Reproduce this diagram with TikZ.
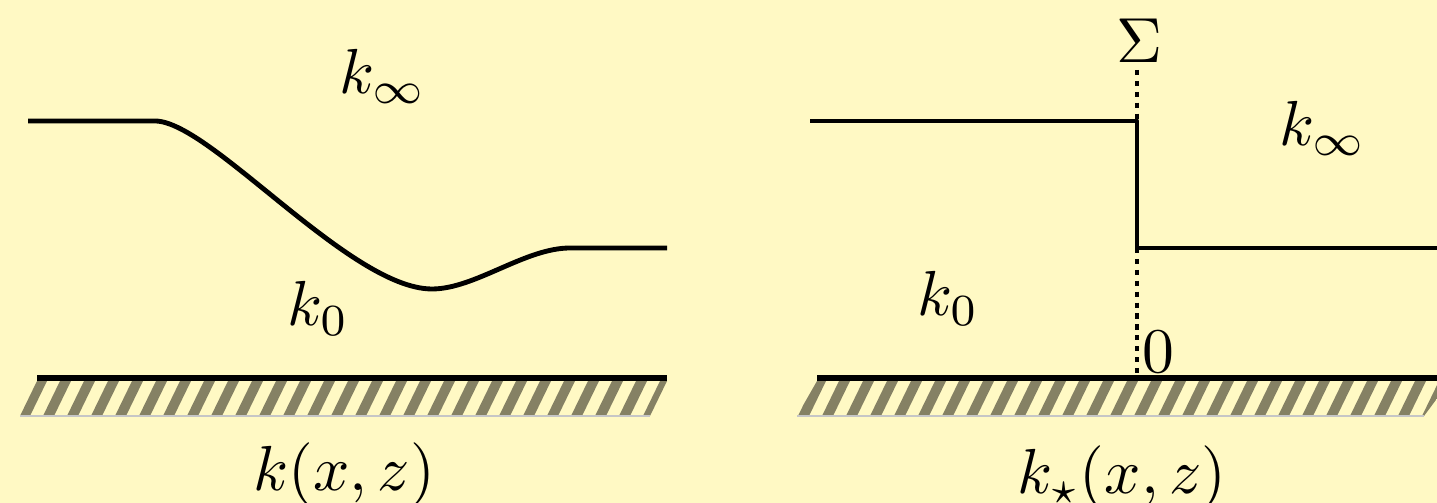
\documentclass[tikz,border=0pt]{standalone}
\definecolor{paper}{RGB}{255,249,196}
\definecolor{soil}{RGB}{133,129,100}
\tikzset{
  profile/.style={line width=0.8pt, line join=round},
  bed/.style={line width=1pt},
  cut/.style={line width=0.8pt, dash pattern=on 0.85pt off 0.95pt},
  every node/.style={inner sep=0pt, anchor=base, scale=1.05}
}
\begin{document}
\begin{tikzpicture}[x=0.165pt, y=-0.165pt]
	\fill[paper] (0,0) rectangle (1437,503);
	\useasboundingbox (0,0) rectangle (1437,503);
	
	\begin{scope}
		\clip (37,381) -- (667,381) -- (650,416) -- (20,416) -- cycle;
		\foreach \s in {0,24,...,648}
			\fill[soil] ({19+\s},416) -- ++(11,0) -- ++(17,-35) -- ++(-11,0) -- cycle;
	\end{scope}
	\begin{scope}
		\clip (817,381) -- (1450,381) -- (1424,416) -- (797,416) -- cycle;
		\foreach \s in {0,24,...,648}
			\fill[soil] ({798+\s},416) -- ++(11,0) -- ++(17,-35) -- ++(-11,0) -- cycle;
	\end{scope}
	\draw[gray!45, line width=0.2pt] (20,416) -- (650,416);
	\draw[gray!45, line width=0.2pt] (797,416) -- (1424,416);
	
	\draw[bed] (37,378) -- (667,378);
	\draw[bed] (817,378) -- (1437,378);
	
	\draw[profile] (28,121) -- (155,121) .. controls (210,121) and (350,289) .. (432,289)
		.. controls (475,289) and (525,248) .. (570,248) -- (667,248);
	\draw[cut] (1137,70) -- (1137,121);
	\draw[cut] (1137,248) -- (1137,376);
	\draw[profile] (810,121) -- (1137,121) -- (1137,248) -- (1437,248);
	
	\node (kinfL) at (383,94) {$k_\infty$};
	\node (kzeroL) at (318,326) {$k_0$};
	\node (kxz) at (344,491) {$k(x,z)$};
	\node (sigma) at (1139,63) {$\Sigma$};
	\node (origin) at (1158,373) {$0$};
	\node (kinfR) at (1323,146) {$k_\infty$};
	\node (kzeroR) at (948,316) {$k_0$};
	\node (kstar) at (1122,494) {$k_\star(x,z)$};
\end{tikzpicture}
\end{document}
